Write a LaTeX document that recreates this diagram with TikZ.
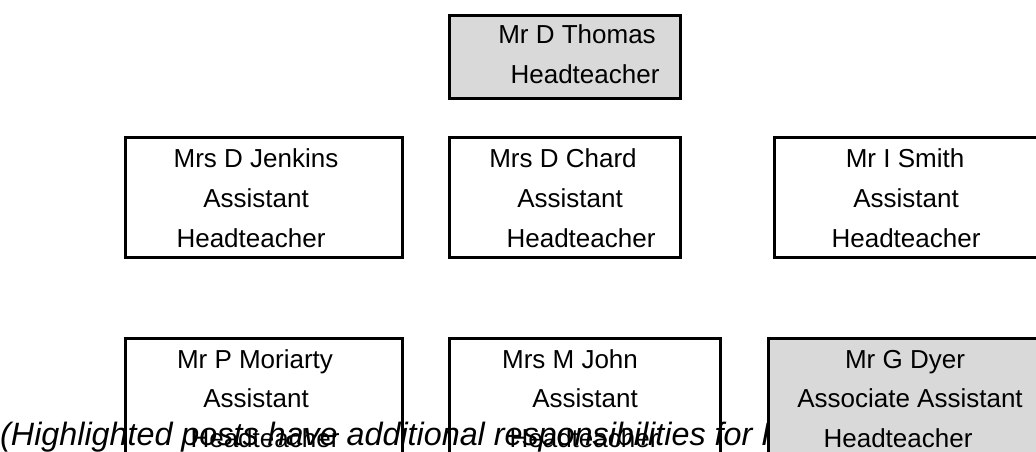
\documentclass[tikz,border=0pt]{standalone}
\usepackage{fontspec}
\setmainfont{Liberation Sans}
\definecolor{hlgrey}{HTML}{D9D9D9}
\begin{document}
\begin{tikzpicture}[x=1pt,y=1pt,
  box/.style={draw=black,line width=3pt,rectangle,anchor=north west,inner sep=0pt,outer sep=0pt},
  hlbox/.style={box,fill=hlgrey},
  txt/.style={anchor=base,inner sep=0pt,font=\fontsize{26}{26}\selectfont},
  note/.style={anchor=base west,inner sep=0pt,font=\fontsize{32.3}{32.3}\selectfont\itshape}]
\useasboundingbox (0,0) rectangle (1036,451);
\clip (0,0) rectangle (1036,451);
% top box
\node[hlbox,minimum width=231pt,minimum height=82pt] (head) at (449.5,435) {};
\node[txt] (headA) at (577,407) {Mr D Thomas};
\node[txt] (headB) at (585,367) {Headteacher};
% row 2
\node[box,minimum width=277pt,minimum height=120pt] (jen) at (125.5,314) {};
\node[txt] (jenA) at (256,284) {Mrs D Jenkins};
\node[txt] (jenB) at (256,244) {Assistant};
\node[txt] (jenC) at (251,204) {Headteacher};
\node[box,minimum width=231pt,minimum height=120pt] (cha) at (449.5,314) {};
\node[txt] (chaA) at (563,284) {Mrs D Chard};
\node[txt] (chaB) at (570,244) {Assistant};
\node[txt] (chaC) at (581,204) {Headteacher};
\node[box,minimum width=280pt,minimum height=120pt] (smi) at (774.5,314) {};
\node[txt] (smiA) at (905,284) {Mr I Smith};
\node[txt] (smiB) at (906,244) {Assistant};
\node[txt] (smiC) at (906,204) {Headteacher};
% row 3
\node[box,minimum width=277pt,minimum height=140pt] (mor) at (125.5,113) {};
\node[txt] (morA) at (255,83) {Mr P Moriarty};
\node[txt] (morB) at (256,44) {Assistant};
\node[txt] (morC) at (265,4) {Headteacher};
\node[box,minimum width=271pt,minimum height=140pt] (joh) at (449.5,113) {};
\node[txt] (johA) at (570,83) {Mrs M John};
\node[txt] (johB) at (585,44) {Assistant};
\node[txt] (johC) at (584,4) {Headteacher};
% note text
\node[note] (note) at (0,6) {(Highlighted posts have additional responsibilities for Headteacher)};
% grey box on top
\node[hlbox,minimum width=280pt,minimum height=140pt] (dye) at (768.5,113) {};
\node[txt] (dyeA) at (905,83) {Mr G Dyer};
\node[txt] (dyeB) at (910,44) {Associate Assistant};
\node[txt] (dyeC) at (898,4) {Headteacher};
\end{tikzpicture}
\end{document}
